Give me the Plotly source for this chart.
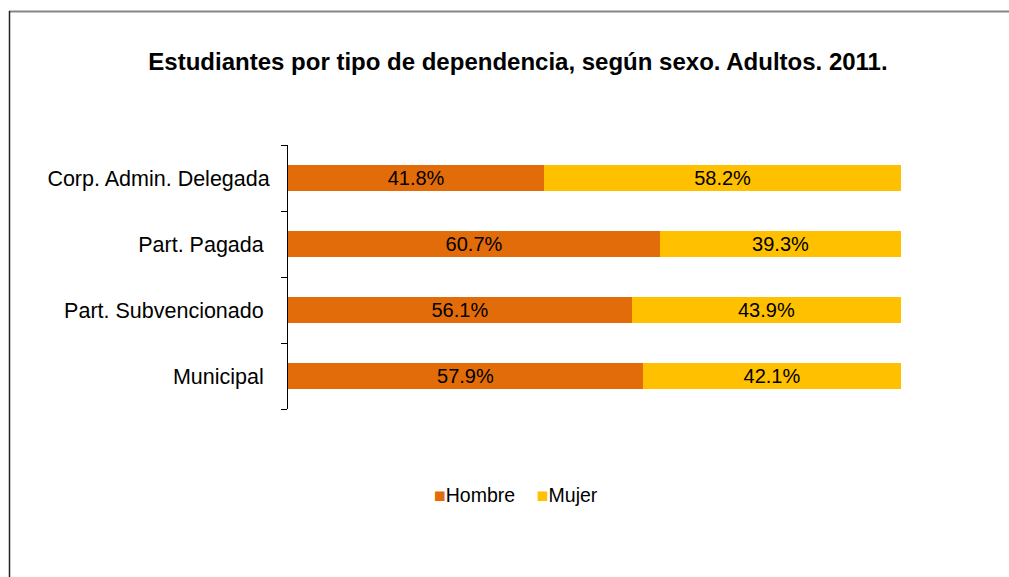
import plotly.graph_objects as go

# Categories (bottom to top as drawn)
categorias = ["Municipal", "Part. Subvencionado", "Part. Pagada", "Corp. Admin. Delegada"]
etiquetas = ["Municipal\u00a0", "Part. Subvencionado\u00a0", "Part. Pagada\u00a0", "Corp. Admin. Delegada"]
hombre = [57.9, 56.1, 60.7, 41.8]
mujer = [42.1, 43.9, 39.3, 58.2]
series = ["Hombre", "Mujer"]
colores = ["#E36C0A", "#FFC000"]

W, H = 1009, 577
L, R, T, B = 288, 901, 145, 409  # plot area in pixels

def px_to_paper_x(px):
    return (px - L) / (R - L)

def px_to_paper_y(py):
    return (B - py) / (B - T)

FONT = "Liberation Sans, Arial, sans-serif"

fig = go.Figure()
for nombre, valores, color in zip(series, [hombre, mujer], colores):
    fig.add_trace(go.Bar(
        y=categorias, x=valores, name=nombre, orientation="h",
        marker=dict(color=color, line=dict(width=0)),
        text=[f"{v:.1f}%" for v in valores], textposition="inside",
        insidetextanchor="middle", constraintext="none",
        textfont=dict(color="black", size=20, family=FONT),
        showlegend=False,
    ))

# Legend row: coloured squares followed by the series names
leyenda = (
    f"<span style='color:{colores[0]}'>■</span>{series[0]}"
    "\u00a0\u00a0\u00a0\u00a0"
    f"<span style='color:{colores[1]}'>■</span>{series[1]}"
)

fig.update_layout(
    width=W, height=H,
    barmode="stack", bargap=0.6,
    paper_bgcolor="white", plot_bgcolor="white",
    margin=dict(l=L, r=W - R, t=T, b=H - B, autoexpand=False),
    font=dict(family=FONT, size=20, color="black"),
    title=dict(
        text="<b>Estudiantes por tipo de dependencia, según sexo. Adultos. 2011.</b>",
        x=518 / W, xanchor="center", xref="container",
        y=1 - 62 / H, yanchor="middle", yref="container",
        font=dict(size=24, family=FONT, color="black"),
    ),
    xaxis=dict(range=[0, 100], visible=False, fixedrange=True),
    yaxis=dict(
        type="category", categoryorder="array", categoryarray=categorias,
        tickmode="array", tickvals=categorias, ticktext=etiquetas,
        showline=True, linecolor="black", linewidth=1,
        ticks="outside", ticklen=6, tickcolor="black", tickwidth=1,
        tickson="boundaries", ticklabelstandoff=13,
        showgrid=False, zeroline=False,
        tickfont=dict(size=21.5, family=FONT, color="black"),
    ),
    showlegend=False,
    annotations=[
        dict(text=leyenda, xref="paper", yref="paper",
             x=px_to_paper_x(516), y=px_to_paper_y(495),
             xanchor="center", yanchor="middle", showarrow=False,
             font=dict(size=19.5, family=FONT, color="black")),
    ],
    shapes=[
        dict(type="line", xref="paper", yref="paper",
             x0=px_to_paper_x(9), x1=px_to_paper_x(W + 5),
             y0=px_to_paper_y(11.5), y1=px_to_paper_y(11.5),
             line=dict(color="#868686", width=2)),
        dict(type="line", xref="paper", yref="paper",
             x0=px_to_paper_x(9.5), x1=px_to_paper_x(9.5),
             y0=px_to_paper_y(11), y1=px_to_paper_y(H + 5),
             line=dict(color="#222222", width=1.5)),
    ],
)

fig.write_html("out.html")
